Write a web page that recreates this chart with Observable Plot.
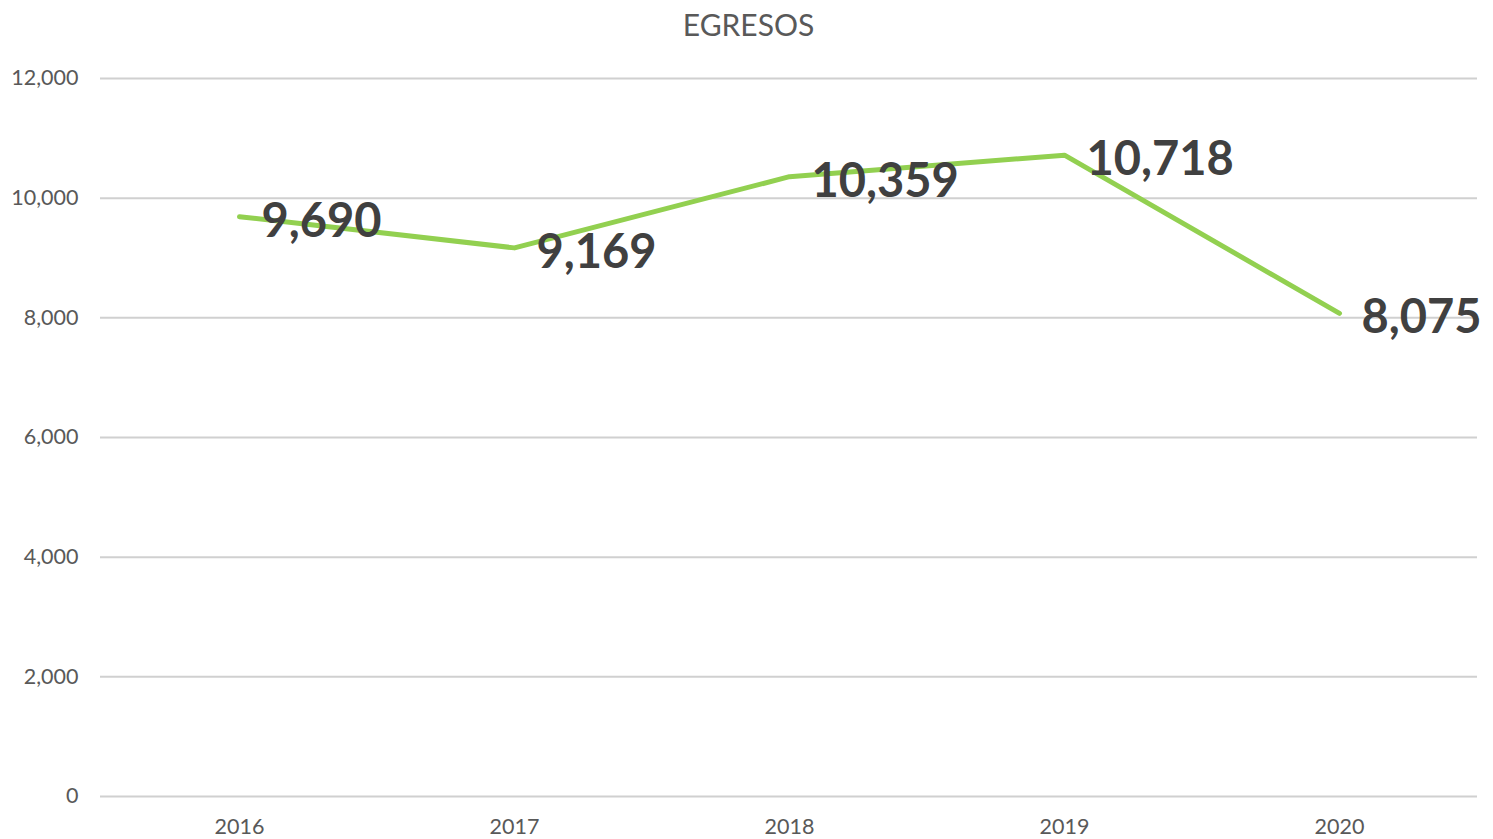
<!DOCTYPE html>
<html>
<head>
<meta charset="utf-8">
<script src="https://cdn.jsdelivr.net/npm/d3@7"></script>
<script src="https://cdn.jsdelivr.net/npm/@observablehq/plot@0.6"></script>
<style>
  body { margin: 0; background: #fff; }
  #title { height: 46px; line-height: 48px; text-align: center; font-family: Lato, sans-serif; font-size: 30px; color: #595959; padding-left: 4px; }
</style>
</head>
<body>
<div id="title">EGRESOS</div>
<div id="chart"></div>
<script>
const years = ["2016", "2017", "2018", "2019", "2020"];
const egresos = [9690, 9169, 10359, 10718, 8075];
const yTicks = [0, 2000, 4000, 6000, 8000, 10000, 12000];

const data = years.map((y, i) => ({year: y, value: egresos[i]}));
const fmt = d3.format(",");

const chart = Plot.plot({
  width: 1493,
  height: 793,
  marginTop: 32,
  marginBottom: 43,
  marginLeft: 100,
  marginRight: 16,
  style: {fontFamily: "Lato, sans-serif", fontSize: "21.5px", color: "#595959", background: "#fff"},
  x: {type: "point", domain: years, padding: 0.5, label: null, tickSize: 0, tickPadding: 22},
  y: {domain: [0, 12000], ticks: yTicks, tickFormat: fmt, label: null, tickSize: 0, tickPadding: 22},
  marks: [
    Plot.ruleY(yTicks, {stroke: "#d0d0d0", strokeWidth: 2}),
    Plot.line(data, {x: "year", y: "value", stroke: "#92d050", strokeWidth: 5, strokeLinecap: "round", strokeLinejoin: "round"}),
    Plot.text(data, {x: "year", y: "value", text: d => fmt(d.value), textAnchor: "start", dx: 22, dy: 5, fontSize: 47, fontWeight: "bold", fill: "#404040"})
  ]
});
document.getElementById("chart").appendChild(chart);
</script>
</body>
</html>
